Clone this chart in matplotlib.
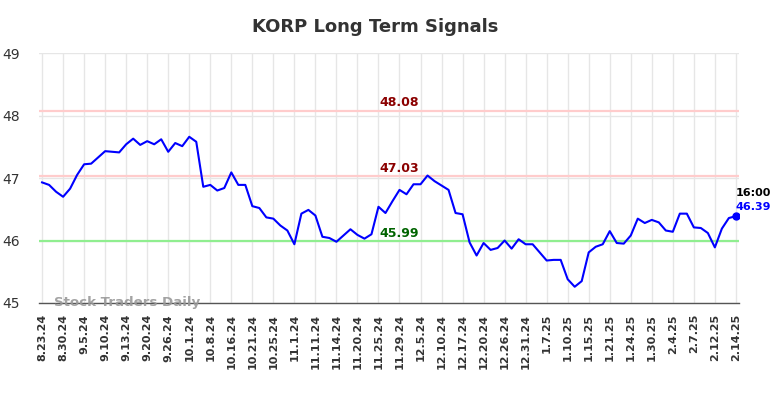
import matplotlib
matplotlib.use('Agg')
import matplotlib.pyplot as plt


# Werte (ein Punkt alle ~2 Handelstage)
prices = [46.93, 46.89, 46.78, 46.70, 46.83, 47.05, 47.22, 47.23, 47.33, 47.43,
          47.42, 47.41, 47.54, 47.63, 47.53, 47.59, 47.54, 47.62, 47.42, 47.56,
          47.51, 47.66, 47.58, 46.86, 46.89, 46.80, 46.84, 47.09, 46.89, 46.89,
          46.55, 46.52, 46.37, 46.35, 46.24, 46.16, 45.94, 46.43, 46.49, 46.40,
          46.06, 46.04, 45.98, 46.08, 46.18, 46.09, 46.03, 46.10, 46.54, 46.44,
          46.63, 46.81, 46.74, 46.90, 46.90, 47.04, 46.95, 46.88, 46.81, 46.44,
          46.42, 45.97, 45.76, 45.96, 45.85, 45.88, 46.00, 45.87, 46.02, 45.94,
          45.94, 45.81, 45.68, 45.69, 45.69, 45.38, 45.26, 45.35, 45.81, 45.90,
          45.94, 46.15, 45.96, 45.95, 46.08, 46.35, 46.28, 46.33, 46.29, 46.16,
          46.14, 46.43, 46.43, 46.21, 46.20, 46.12, 45.89, 46.19, 46.36, 46.39]

tick_labels = ["8.23.24", "8.30.24", "9.5.24", "9.10.24", "9.13.24", "9.20.24",
               "9.26.24", "10.1.24", "10.8.24", "10.16.24", "10.21.24", "10.25.24",
               "11.1.24", "11.11.24", "11.14.24", "11.20.24", "11.25.24", "11.29.24",
               "12.5.24", "12.10.24", "12.17.24", "12.20.24", "12.26.24", "12.31.24",
               "1.7.25", "1.10.25", "1.15.25", "1.21.25", "1.24.25", "1.30.25",
               "2.4.25", "2.7.25", "2.12.25", "2.14.25"]

resistance = [48.08, 47.03]
support = [45.99]
last_time = "16:00"


fig = plt.figure(figsize=(7.84, 3.98), dpi=100)
ax = fig.add_axes([0.0501, 0.2387, 0.893, 0.628])

x = list(range(len(prices)))
ticks = x[::3]

ax.set_xlim(-0.4, 99.5)
ax.set_ylim(45, 49)
ax.set_yticks([45, 46, 47, 48, 49])
ax.set_xticks(ticks)
ax.set_xticklabels(tick_labels, rotation=90, fontsize=8, fontweight='bold', color='#333333')
ax.tick_params(axis='y', labelsize=10, colors='#333333', length=0, pad=14)
ax.tick_params(axis='x', length=0, pad=8)
ax.grid(True, color='#e6e6e6', linewidth=1)
ax.set_axisbelow(True)

for s in ['top', 'right', 'left']:
    ax.spines[s].set_visible(False)
ax.spines['bottom'].set_color('#555555')
ax.spines['bottom'].set_linewidth(1)

for r in resistance:
    ax.axhline(r, color='#ffcccc', linewidth=1.6, zorder=2)
    ax.text(48.2, r + 0.025, "%.2f" % r, color='#8b0000', fontsize=9,
            fontweight='bold', ha='left', va='bottom')
for s in support:
    ax.axhline(s, color='#90ee90', linewidth=1.6, zorder=2)
    ax.text(48.2, s + 0.025, "%.2f" % s, color='#006400', fontsize=9,
            fontweight='bold', ha='left', va='bottom')

ax.plot(x, prices, color='#0000ff', linewidth=1.5, zorder=3)
ax.plot([x[-1]], [prices[-1]], 'o', color='#0000ff', markersize=5, zorder=4)

ax.text(x[-1], prices[-1] + 0.37, last_time, color='black', fontsize=8,
        fontweight='bold', ha='left', va='center')
ax.text(x[-1], prices[-1] + 0.15, "%.2f" % prices[-1], color='#0000ff', fontsize=8,
        fontweight='bold', ha='left', va='center')

ax.text(1.7, 45.0, "Stock Traders Daily", color='#999999', fontsize=9.6,
        fontweight='bold', ha='left', va='center', alpha=0.9, zorder=5)

fig.suptitle("KORP Long Term Signals", x=0.478, y=0.955, fontsize=13,
             fontweight='bold', color='#333333')

plt.savefig("out.png", dpi=100)
